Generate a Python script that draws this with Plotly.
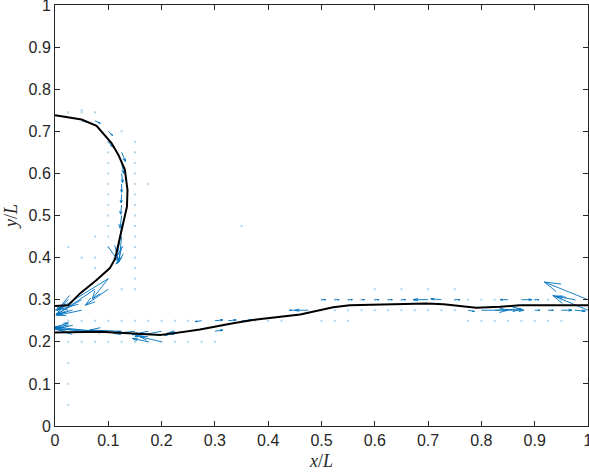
import plotly.graph_objects as go

# ---------------- data ----------------
# interface curve (upper loop, then lower branch)
loop_x = [0.0, 0.05, 0.078, 0.106, 0.119, 0.131, 0.136, 0.135, 0.128, 0.119, 0.113, 0.103, 0.078, 0.047, 0.025, 0.0]
loop_y = [0.738, 0.728, 0.713, 0.672, 0.644, 0.609, 0.561, 0.521, 0.482, 0.434, 0.398, 0.375, 0.347, 0.315, 0.287, 0.285]
low_x = [0.0, 0.084, 0.147, 0.197, 0.222, 0.272, 0.334, 0.378, 0.46, 0.522, 0.553, 0.616, 0.697, 0.729, 0.79, 0.835, 0.872, 1.0]
low_y = [0.222, 0.224, 0.22, 0.216, 0.22, 0.229, 0.244, 0.253, 0.265, 0.282, 0.287, 0.289, 0.291, 0.289, 0.281, 0.283, 0.287, 0.287]

# velocity vectors: base (qx, qy), components (qu, qv)
qx = [0.05, 0.075, 0.1, 0.1, 0.125, 0.125, 0.125, 0.125, 0.125, 0.125, 0.125, 0.125, 0.125, 0.125, 0.1, 0.125,
      0.1, 0.1, 0.075, 0.1, 0.05, 0.025, 0.05, 0.025, 0.0,
      0.1, 0.075, 0.05, 0.125, 0.0, 0.15, 0.175, 0.2, 0.2, 0.225, 0.25, 0.175, 0.3,
      0.275, 0.3, 0.325, 0.35, 0.45, 0.475,
      0.5, 0.525, 0.55, 0.575, 0.6, 0.625, 0.65, 0.7, 0.725, 0.75, 0.85, 0.875, 0.9,
      0.775, 0.8, 0.825, 0.85, 0.9, 0.925, 0.95, 0.975,
      1.0, 1.0, 0.975]
qy = [0.725, 0.725, 0.7, 0.675, 0.65, 0.625, 0.6, 0.575, 0.55, 0.525, 0.5, 0.475, 0.45, 0.425, 0.425, 0.4,
      0.35, 0.325, 0.325, 0.35, 0.3, 0.3, 0.275, 0.275, 0.275,
      0.225, 0.225, 0.225, 0.225, 0.235, 0.225, 0.225, 0.225, 0.2, 0.225, 0.225, 0.2, 0.225,
      0.25, 0.25, 0.25, 0.25, 0.275, 0.275,
      0.3, 0.3, 0.3, 0.3, 0.3, 0.3, 0.3, 0.3, 0.3, 0.3, 0.3, 0.3, 0.3,
      0.275, 0.275, 0.275, 0.275, 0.275, 0.275, 0.275, 0.275,
      0.3, 0.275, 0.3]
qu = [0.012, 0.01, 0.008, 0.008, 0.007, 0.004, 0.002, 0.0, -0.001, -0.002, -0.003, -0.008, -0.005, -0.006, 0.02, -0.01,
      -0.096, -0.043, -0.073, -0.03, -0.048, -0.022, -0.045, -0.02, 0.02,
      -0.1, -0.075, -0.05, -0.06, 0.025, -0.04, -0.03, -0.05, -0.04, -0.02, -0.04, -0.03, 0.015,
      -0.012, 0.015, 0.015, 0.02, -0.01, -0.025,
      0.008, 0.008, 0.008, 0.006, 0.008, 0.008, 0.008, -0.028, -0.02, 0.01, -0.015, 0.02, 0.008,
      0.012, 0.05, 0.05, 0.03, 0.01, 0.01, 0.02, 0.02,
      -0.082, -0.066, -0.035]
qv = [-0.004, -0.006, -0.01, -0.012, -0.022, -0.025, -0.022, -0.02, -0.02, -0.022, -0.03, -0.07, -0.06, -0.035, -0.035, -0.015,
      -0.075, -0.038, -0.062, -0.048, -0.035, -0.025, -0.012, 0.005, 0.012,
      0.005, 0.01, 0.008, 0.003, 0.01, -0.005, -0.008, -0.012, 0.012, -0.01, -0.005, 0.008, 0.003,
      -0.002, 0.002, 0.002, 0.002, 0.0, 0.0,
      0.0, 0.0, 0.0, 0.0, 0.0, 0.0, 0.0, 0.0, 0.002, 0.0, 0.0, 0.0, 0.0,
      -0.003, 0.0, 0.003, 0.0, 0.0, 0.0, 0.0, -0.002,
      0.042, 0.035, 0.008]

# near-zero vectors (drawn as dots)
dots_x = ([0.025, 0.05, 0.075, 0.1, 0.125, 0.15, 0.175, 0.2, 0.225, 0.25, 0.275, 0.3] +
          [0.025, 0.05, 0.075, 0.1, 0.125, 0.15, 0.175, 0.2, 0.225, 0.25, 0.375, 0.4, 0.425, 0.5, 0.525, 0.55,
           0.775, 0.8, 0.825, 0.85, 0.875, 0.9, 0.925, 0.95] +
          [0.5, 0.525, 0.55, 0.575, 0.6, 0.625, 0.65, 0.675, 0.75, 0.775, 0.8, 0.825, 0.9, 0.925, 0.95, 0.975] +
          [0.5, 0.525, 0.55, 0.575, 0.6, 0.625, 0.65, 0.675, 0.7, 0.725, 0.75] +
          [0.6, 0.65, 0.7, 0.75] +
          [0.1, 0.1, 0.1, 0.1, 0.1, 0.1, 0.1, 0.1, 0.1, 0.1, 0.1] +
          [0.15, 0.15, 0.15, 0.15, 0.15, 0.15, 0.15, 0.15, 0.15, 0.15, 0.15, 0.15, 0.15, 0.15, 0.15] +
          [0.025, 0.025, 0.025, 0.025, 0.05, 0.075, 0.075, 0.075, 0.05, 0.125, 0.125, 0.175, 0.35, 0.025, 0.05, 0.075])
dots_y = ([0.2, 0.2, 0.2, 0.2, 0.2, 0.2, 0.2, 0.2, 0.2, 0.2, 0.2, 0.2] +
          [0.25, 0.25, 0.25, 0.25, 0.25, 0.25, 0.25, 0.25, 0.25, 0.25, 0.25, 0.25, 0.25, 0.25, 0.25, 0.25,
           0.25, 0.25, 0.25, 0.25, 0.25, 0.25, 0.25, 0.25] +
          [0.3, 0.3, 0.3, 0.3, 0.3, 0.3, 0.3, 0.3, 0.3, 0.3, 0.3, 0.3, 0.3, 0.3, 0.3, 0.3] +
          [0.275, 0.275, 0.275, 0.275, 0.275, 0.275, 0.275, 0.275, 0.275, 0.275, 0.275] +
          [0.325, 0.325, 0.325, 0.325] +
          [0.425, 0.45, 0.475, 0.5, 0.525, 0.55, 0.575, 0.6, 0.625, 0.65, 0.675] +
          [0.325, 0.35, 0.375, 0.4, 0.425, 0.45, 0.475, 0.5, 0.525, 0.55, 0.575, 0.6, 0.625, 0.65, 0.675] +
          [0.05, 0.1, 0.15, 0.425, 0.4, 0.375, 0.4, 0.45, 0.75, 0.7, 0.325, 0.575, 0.475, 0.745, 0.745, 0.745])

x_ticks = [0, 0.1, 0.2, 0.3, 0.4, 0.5, 0.6, 0.7, 0.8, 0.9, 1]
x_tick_labels = ["0", "0.1", "0.2", "0.3", "0.4", "0.5", "0.6", "0.7", "0.8", "0.9", "1"]
y_ticks = [0, 0.1, 0.2, 0.3, 0.4, 0.5, 0.6, 0.7, 0.8, 0.9, 1]
y_tick_labels = ["0", "0.1", "0.2", "0.3", "0.4", "0.5", "0.6", "0.7", "0.8", "0.9", "1"]

# ---------------- quiver geometry (MATLAB-style heads) ----------------
ALPHA, BETA = 0.33, 0.33
qxs, qys = [], []
for x, y, u, v in zip(qx, qy, qu, qv):
    qxs += [x, x + u, None,
            x + u - ALPHA * (u + BETA * v), x + u, x + u - ALPHA * (u - BETA * v), None]
    qys += [y, y + v, None,
            y + v - ALPHA * (v - BETA * u), y + v, y + v - ALPHA * (v + BETA * u), None]

BLUE = "#0072BD"
fig = go.Figure()
fig.add_trace(go.Scatter(x=dots_x, y=dots_y, mode="markers",
                         marker=dict(symbol="square", size=2, color=BLUE, opacity=0.3, line=dict(width=0)),
                         hoverinfo="skip", showlegend=False))
fig.add_trace(go.Scatter(x=qxs, y=qys, mode="lines", line=dict(color=BLUE, width=0.9),
                         hoverinfo="skip", showlegend=False))
fig.add_trace(go.Scatter(x=loop_x, y=loop_y, mode="lines", line=dict(color="black", width=2),
                         showlegend=False))
fig.add_trace(go.Scatter(x=low_x, y=low_y, mode="lines", line=dict(color="black", width=2),
                         showlegend=False))

AX = "#262626"
axis_common = dict(range=[-1e-6, 1 + 1e-6], showgrid=False, zeroline=False, showline=True, linecolor=AX,
                   linewidth=1, mirror="allticks", ticks="inside", ticklen=5, tickcolor=AX, tickwidth=1,
                   automargin=False, ticklabeloverflow="allow",
                   tickfont=dict(family="Liberation Sans, Arial, sans-serif", size=16, color=AX))
fig.update_layout(
    width=589, height=476,
    margin=dict(l=55, r=1, t=5, b=50),
    paper_bgcolor="white", plot_bgcolor="white",
    xaxis=dict(axis_common, tickvals=x_ticks, ticktext=x_tick_labels,
               title=dict(text="<i>x</i>/<i>L</i>", standoff=6,
                          font=dict(family="Liberation Serif, serif", size=18, color=AX))),
    yaxis=dict(axis_common, tickvals=y_ticks, ticktext=y_tick_labels,
               title=dict(text="<i>y</i>/<i>L</i>", standoff=6,
                          font=dict(family="Liberation Serif, serif", size=18, color=AX))),
)
fig.write_html("out.html", config={"displayModeBar": False},
               post_script="document.body.style.margin='0';document.body.style.overflow='hidden';")
